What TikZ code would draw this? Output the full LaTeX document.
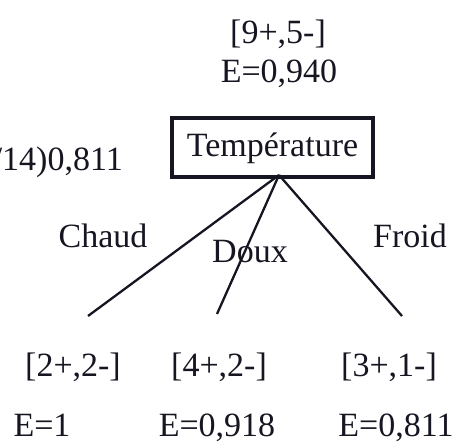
\documentclass[tikz,border=0pt]{standalone}
\usepackage{fontspec}
\setmainfont{Liberation Serif}
\definecolor{ink}{RGB}{22,22,34}
\begin{document}
\begin{tikzpicture}[x=1pt,y=-1pt,
  lbl/.style={inner sep=0pt,anchor=base,text=ink,font=\fontsize{34}{40}\selectfont},
  boxnode/.style={draw=ink,line width=3.5pt,minimum width=201pt,minimum height=59pt,inner sep=0pt,
    text=ink,font=\fontsize{34}{40}\selectfont,text height=25pt,text depth=8pt},
  branch/.style={draw=ink,line width=2.3pt}]
\useasboundingbox (0,0) rectangle (458,442);
\node[lbl] (root1) at (278,43) {[9+,5-]};
\node[lbl] (root2) at (279,82) {E=0,940};
\node[lbl,anchor=base east] (gain) at (123,170) {/14)0,811};
\node[boxnode] (temp) at (272.5,147.5) {Température};
\coordinate (top) at (279,175);
\coordinate (e1) at (88,316);
\coordinate (e2) at (217,314);
\coordinate (e3) at (402,316);
\draw[branch] (top) -- (e1);
\draw[branch] (top) -- (e2);
\draw[branch] (top) -- (e3);
\node[lbl] (chaud) at (103,247) {Chaud};
\node[lbl] (doux) at (250,262) {Doux};
\node[lbl] (froid) at (410,247) {Froid};
\node[lbl] (s1) at (73,376) {[2+,2-]};
\node[lbl] (s2) at (219,376) {[4+,2-]};
\node[lbl] (s3) at (389,376) {[3+,1-]};
\node[lbl] (h1) at (42,436) {E=1};
\node[lbl] (h2) at (217,436) {E=0,918};
\node[lbl] (h3) at (396,436) {E=0,811};
\end{tikzpicture}
\end{document}
